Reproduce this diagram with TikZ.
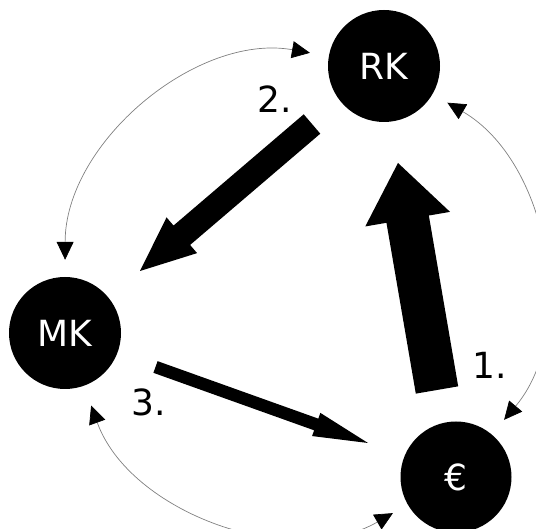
\documentclass[tikz,border=0pt]{standalone}
\usepackage{fontspec}
\setmainfont{DejaVu Sans}
\usetikzlibrary{arrows.meta,calc}

% Solid block arrow: tail, tip, shaft half-width, head half-width, head length
\newcommand{\fatarrow}[5]{%
  \coordinate (#2-base) at ($(#2)!#5!(#1)$);
  \fill[black] ($(#1)!#3!90:(#2)$) -- ($(#2-base)!#3!90:(#2)$)
    -- ($(#2-base)!#4!90:(#2)$) -- (#2)
    -- ($(#2-base)!#4!-90:(#2)$) -- ($(#2-base)!#3!-90:(#2)$)
    -- ($(#1)!#3!-90:(#2)$) -- cycle;
}

\begin{document}
\begin{tikzpicture}[x=1pt,y=1pt,
  disc/.style={circle, fill=black, text=white, minimum size=112pt,
    inner sep=0pt, font=\fontsize{36}{40}\selectfont},
  steplabel/.style={font=\fontsize{36}{40}\selectfont, inner sep=0pt},
  thintip/.style={Triangle[length=18pt,width=17pt,color=black]},
  link/.style={draw=black!50, line width=0.7pt, {Triangle[length=18pt,width=17pt,color=black]}-{Triangle[length=18pt,width=17pt,color=black]}},
]
\useasboundingbox (0,0) rectangle (536,529);

% the three stocks
\node[disc] (rk) at (384,463) {RK};
\node[disc] (mk) at (65,196) {MK};
\node[disc, minimum size=111pt] (eur) at (456,52) {€};

% two-way exchanges along the outer ring
\draw[link, shorten <=19pt, shorten >=17pt] (rk) to[bend right=50] (mk);
\draw[link, shorten <=17pt, shorten >=19pt] (rk) to[bend left=50] (eur);
\draw[link, shorten <=21pt, shorten >=17pt] (mk) to[bend right=50] (eur);

% numbered flows
\coordinate (f1s) at (437,139);
\coordinate (f1e) at (398,366);
\coordinate (f2s) at (312,405);
\coordinate (f2e) at (140,258);
\coordinate (f3s) at (155.5,162);
\coordinate (f3e) at (368,86);
\fatarrow{f1s}{f1e}{21.5pt}{43pt}{57pt}
\fatarrow{f2s}{f2e}{12.75pt}{23.5pt}{55pt}
\fatarrow{f3s}{f3e}{6.2pt}{12.3pt}{55pt}

\node[steplabel] (n1) at (490,164) {1.};
\node[steplabel] (n2) at (275,429.5) {2.};
\node[steplabel] (n3) at (149,126.5) {3.};
\end{tikzpicture}
\end{document}
